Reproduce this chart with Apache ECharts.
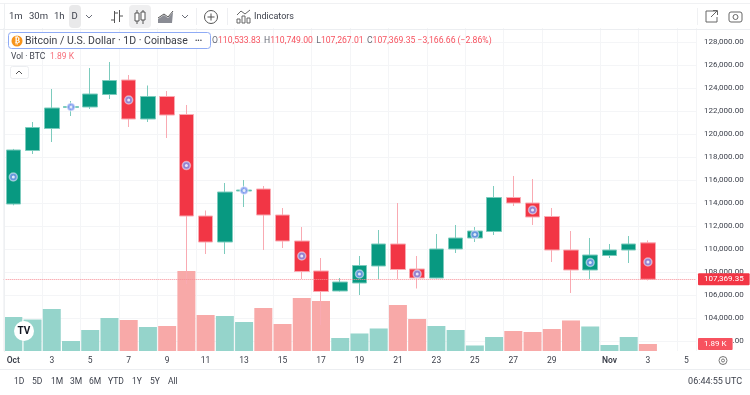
<!DOCTYPE html>
<html><head><meta charset="utf-8">
<style>html,body{margin:0;padding:0;background:#fff}#c{width:750px;height:395px}</style>
<script src="https://cdn.jsdelivr.net/npm/echarts@6/dist/echarts.min.js"></script>
</head><body><div id="c"></div>
<script>
const categories=['Oct','2','3','4','5','6','7','8','9','10','11','12','13','14','15','16','17','18','19','20','21','22','23','24','25','26','27','28','29','30','31','Nov','2','3','4','5'];
const opens=[113912,118565,120478,122304,122348,123435,124696,121304,123261,121696,112869,110608,115043,115217,112956,110695,108087,106348,107043,108522,110435,108261,107478,110000,110956,111522,114478,114000,112826,109913,108174,109435,109913,110533.83];
const highs=[118700,121043,123913,122869,125739,126261,125130,124217,123739,122522,113348,115739,116000,115478,113565,111913,109217,107478,109391,111652,114000,109391,111304,112087,111913,115478,116348,116087,113565,111565,110957,110435,111130,110749];
const lows=[113800,118260,119304,121565,122174,123043,120609,121043,119652,106956,109565,109565,113652,109913,110087,107391,103391,106304,106000,107391,107391,106565,107435,109652,110609,111217,113739,112087,108870,106174,107391,109217,108783,107267.01];
const closes=[118609,120565,122261,122391,123478,124652,121304,123261,121652,112869,110608,114956,115130,112956,110695,108043,106304,107130,108565,110435,108217,107478,110000,110956,111565,114478,114000,112783,109913,108174,109478,109913,110435,107369.35];
const volumes=[9.18,8.5,11.34,2.7,5.67,8.91,8.37,6.48,6.75,21.6,9.72,9.45,7.83,11.61,7.29,14.31,13.5,3.51,4.73,6.08,12.42,8.64,6.75,5.67,1.49,3.78,5.4,5.13,5.94,8.24,6.62,1.62,3.78,1.89];
const markerIndex=[0,3,6,9,12,15,18,21,24,27,30,33];
const markerValues=[116260,122348,122957,117252,115087,109391,107826,107826,111261,113391,108826,108870];
const lastPrice=107369.35, lastVolume=1.89;
const priceTicks={min:100000,max:130000,interval:2000};

const GREEN='#089981',RED='#f23645',FONT='Roboto, "Liberation Sans", sans-serif',TXT='#3b3f4a',GRIDC='#f4f5f7';
const fmt=v=>v.toLocaleString('en-US',{minimumFractionDigits:2,maximumFractionDigits:2});
const shown=i=>i===31||(i<30&&i%2===0)||(i>31&&(i-31)%2===0);

const candle=categories.map((_,i)=>i<opens.length?[opens[i],closes[i],lows[i],highs[i]]:'-');
const vol=categories.map((_,i)=>i<volumes.length?{value:volumes[i],itemStyle:{color:closes[i]>=opens[i]?'#95d4cb':'#f8a9a8'}}:'-');
const marks=markerIndex.map((x,i)=>[x,markerValues[i]]);

const t=(text,x,y,o={})=>({type:'text',z:50,x,y,style:Object.assign({text,fill:TXT,font:'9.5px '+FONT,textVerticalAlign:'middle'},o)});
const rect=(x,y,w,h,o={},r=0)=>({type:'rect',z:o.z||45,shape:{x,y,width:w,height:h,r},style:Object.assign({fill:'none'},o.style||{})});
const ln=(x1,y1,x2,y2,c='#eeeff2',w=1,z=46)=>({type:'line',z,shape:{x1,y1,x2,y2},style:{stroke:c,lineWidth:w}});
const poly=(pts,c='#6a6d78',w=1)=>({type:'polyline',z:47,shape:{points:pts},style:{stroke:c,lineWidth:w,fill:'none'}});
const circ=(cx,cy,r,o)=>({type:'circle',z:47,shape:{cx,cy,r},style:o});

const graphic=[
 ln(0,3.5,750,3.5,'#f0f1f3'),ln(0,29.5,750,29.5,'#eceef1'),ln(0,369.5,750,369.5,'#eceef1'),ln(4.5,3,4.5,352,'#eef0f2'),
 rect(69,5,12,23,{style:{fill:'#e9e9ea'}},4),rect(129,5,22,23,{style:{fill:'#efeff0'}},4),
 t('1m',9,17),t('30m',29,17),t('1h',54,17),t('D',71.5,17),
 poly([[86,15],[89,18],[92,15]]),
 ln(114.5,11,114.5,23,'#555'),ln(119.5,10,119.5,22,'#555'),ln(111,20,114,20,'#555'),ln(115,13,118,13,'#555'),ln(120,16,123,16,'#555'),
 ln(137,10,137,24,'#555'),ln(143,10,143,24,'#555'),rect(135,13,4,8,{z:48,style:{fill:'#fff',stroke:'#555'}}),rect(141,12,4,8,{z:48,style:{fill:'#fff',stroke:'#555'}}),
 {type:'polygon',z:47,shape:{points:[[158,23],[158,19],[164,15],[168,18],[173,12],[172,23]]},style:{fill:'#8a8c94'}},
 poly([[158,18],[164,14],[168,17],[173,11]],'#555'),
 poly([[182,15],[185,18],[188,15]]),
 ln(196.5,8,196.5,25),ln(227.5,8,227.5,25),
 circ(211,17,6.5,{fill:'#fff',stroke:'#555',lineWidth:1}),ln(211,13.5,211,20.5,'#555',1,49),ln(207.5,17,214.5,17,'#555',1,49),
 rect(237,19,3,4,{style:{stroke:'#666'}}),rect(242,16,3,7,{style:{stroke:'#666'}}),rect(247,18,3,5,{style:{stroke:'#666'}}),poly([[237,15],[241,11],[245,14],[250,10]],'#666'),
 t('Indicators',254,17,{font:'9px '+FONT}),
 ln(697.5,8,697.5,25,'#f0f1f3'),
 poly([[716,11],[706,11],[706,22],[717,22],[717,17]],'#666'),poly([[711,17],[717,11]],'#666'),poly([[713,10.5],[717.5,10.5],[717.5,15]],'#666'),
 rect(729,12,13,10,{style:{stroke:'#666',fill:'#fff'}},2),circ(735.5,17,2.5,{fill:'#fff',stroke:'#666'}),
 rect(8.5,32.5,202,16,{z:44,style:{fill:'#fff',stroke:'#8fabf5',lineWidth:1}},3),
 circ(17,41,5.5,{fill:'#f7931a'}),t('₿',14.8,41,{fill:'#fff',font:'bold 8px "DejaVu Sans"'}),
 t('Bitcoin / U.S. Dollar · 1D · Coinbase',25,41,{font:'10.5px '+FONT,fill:'#3a3d46'}),t('•••',195,41,{font:'7px '+FONT}),
 {type:'text',z:50,x:212,y:41,style:{rich:{g:{fill:'#6a6d78',font:'8.65px '+FONT},r:{fill:'#f7525f',font:'8.65px '+FONT}},
  text:'{g|O}{r|110,533.83} {g|H}{r|110,749.00} {g|L}{r|107,267.01} {g|C}{r|107,369.35 −3,166.66 (−2.86%)}',textVerticalAlign:'middle'}},
 t('Vol · BTC',11,57,{font:'8.5px '+FONT}),t('1.89 K',50,57,{font:'8.5px '+FONT,fill:'#f7707b'}),
 rect(10.5,66.5,18,12,{style:{fill:'#fff',stroke:'#eceef1'}},2),poly([[16,74],[19,71],[22,74]],'#555'),
 circ(24,331,10,{fill:'#fff'}),t('TV',17.5,331,{font:'bold 10px '+FONT,fill:'#131722'}),
 ...[['1D',14],['5D',32],['1M',51],['3M',70],['6M',89],['YTD',108],['1Y',132],['5Y',150],['All',168]].map(a=>t(a[0],a[1],382,{font:'8.5px '+FONT})),
 t('06:44:55 UTC',742,382,{font:'9px '+FONT,textAlign:'right'}),
 circ(723,360.5,4,{fill:'#fff',stroke:'#777'}),circ(723,360.5,1.5,{fill:'#fff',stroke:'#777'})
];

const chart=echarts.init(document.getElementById('c'),null,{renderer:'canvas'});
chart.setOption({
 animation:false,backgroundColor:'#fff',textStyle:{fontFamily:FONT},
 grid:[{left:3.7,width:692.3,top:19,height:345,outerBoundsMode:'none'},{left:3.7,width:692.3,top:28,height:323,outerBoundsMode:'none'}],
 xAxis:[
  {type:'category',gridIndex:0,data:categories,show:false,boundaryGap:true},
  {type:'category',gridIndex:1,data:categories,boundaryGap:true,axisLine:{show:false},axisTick:{show:false},
   axisLabel:{interval:i=>shown(i),color:TXT,fontSize:8.5,margin:5,hideOverlap:false,
     formatter:v=>(v==='Oct'||v==='Nov')?'{b|'+v+'}':v,rich:{b:{fontWeight:600,color:TXT,fontSize:8.5}}},
   splitLine:{show:true,interval:i=>shown(i),lineStyle:{color:GRIDC,width:1}}}
 ],
 yAxis:[
  {type:'value',gridIndex:0,position:'right',min:priceTicks.min,max:priceTicks.max,interval:priceTicks.interval,axisLine:{show:false},axisTick:{show:false},
   axisLabel:{color:TXT,fontSize:8,margin:8,showMinLabel:false,showMaxLabel:false,formatter:fmt},
   splitLine:{show:true,showMinLine:false,showMaxLine:false,lineStyle:{color:GRIDC,width:1}}},
  {type:'value',gridIndex:1,min:0,max:87.2,show:false,splitLine:{show:false}}
 ],
 series:[
  {type:'bar',name:'Vol',xAxisIndex:1,yAxisIndex:1,data:vol,barWidth:18,z:1},
  {type:'candlestick',name:'BTCUSD',xAxisIndex:0,yAxisIndex:0,data:candle,barWidth:15,z:2,
   itemStyle:{color:GREEN,color0:RED,borderColor:'#7ccbbd',borderColor0:'#f9aab2',borderWidth:1},
   markLine:{silent:true,symbol:'none',data:[{yAxis:lastPrice}],lineStyle:{color:'#f78d96',type:'dotted',width:1,opacity:1},
    label:{position:'end',distance:2,formatter:()=>fmt(lastPrice),backgroundColor:'#f23645',color:'#fff',fontSize:8,padding:[2,6,2,6],borderRadius:1}}},
  {type:'scatter',xAxisIndex:0,yAxisIndex:0,data:marks,symbolSize:8,z:3,silent:true,itemStyle:{color:'#7e97f2',borderColor:'rgba(255,255,255,0.6)',borderWidth:1.5}},
  {type:'scatter',xAxisIndex:0,yAxisIndex:0,data:marks,symbolSize:3,z:4,silent:true,itemStyle:{color:'#fff'}}
 ],
 graphic:{elements:graphic}
});
const tagY=chart.convertToPixel({yAxisIndex:1},lastVolume);
chart.setOption({graphic:{elements:[{type:'text',id:'volTag',z:60,x:698,y:tagY,style:{text:lastVolume.toFixed(2)+' K',fill:'#fff',font:'8px '+FONT,backgroundColor:'#f7525f',padding:[2,6,2,6],borderRadius:1,textVerticalAlign:'middle'}}]}});
</script></body></html>
